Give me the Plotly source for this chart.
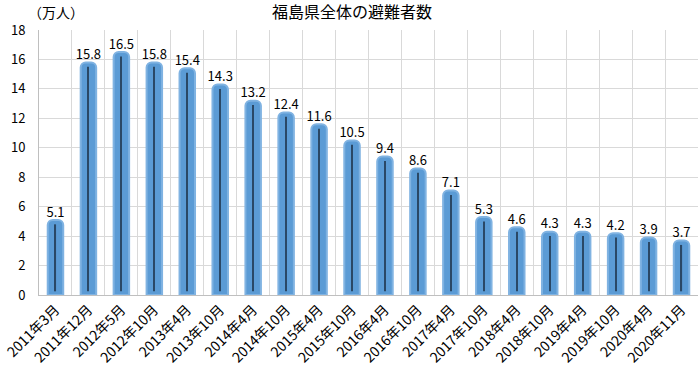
import plotly.graph_objects as go

categories = ["2011年3月", "2011年12月", "2012年5月", "2012年10月", "2013年4月", "2013年10月",
              "2014年4月", "2014年10月", "2015年4月", "2015年10月", "2016年4月", "2016年10月",
              "2017年4月", "2017年10月", "2018年4月", "2018年10月", "2019年4月", "2019年10月",
              "2020年4月", "2020年11月"]
evacuees = [5.1, 15.8, 16.5, 15.8, 15.4, 14.3, 13.2, 12.4, 11.6, 10.5, 9.4, 8.6,
            7.1, 5.3, 4.6, 4.3, 4.3, 4.2, 3.9, 3.7]
y_ticks = [0, 2, 4, 6, 8, 10, 12, 14, 16, 18]

FONT = "Noto Sans CJK JP"
inner_gap = 0.3
line_base = 0.25

fig = go.Figure()
fig.add_trace(go.Bar(
    x=categories, y=evacuees, width=0.47,
    marker=dict(color="#5B9BD5", line=dict(color="#80B3E2", width=2), cornerradius=5),
    showlegend=False, hoverinfo="skip",
))
fig.add_trace(go.Bar(
    x=categories, y=[v - inner_gap - line_base for v in evacuees], base=line_base,
    width=0.035, marker=dict(color="#2A4866", line=dict(width=0)),
    showlegend=False, hoverinfo="skip",
))
fig.add_trace(go.Scatter(
    x=categories, y=evacuees, mode="text",
    text=[f"{v:.1f}" for v in evacuees], textposition="top center",
    textfont=dict(family=FONT, size=13, color="#000000"),
    cliponaxis=False, showlegend=False,
))

fig.update_layout(
    width=700, height=368,
    margin=dict(l=33, r=2, t=30, b=73),
    paper_bgcolor="white", plot_bgcolor="white",
    barmode="overlay",
    font=dict(family=FONT, color="#000000"),
    title=dict(text="福島県全体の避難者数", x=0.503, xanchor="center", y=0.965, yanchor="middle",
               font=dict(family=FONT, size=16, color="#000000")),
    annotations=[dict(text="（万人）", xref="paper", yref="paper", x=0.026, y=1.0, yshift=18,
                      xanchor="center", yanchor="middle", showarrow=False,
                      font=dict(family=FONT, size=14, color="#000000"))],
)
fig.update_xaxes(
    type="category", range=[-0.5, len(categories) - 0.5], tickangle=-45, tickson="boundaries",
    showgrid=True, gridcolor="#D9D9D9", gridwidth=1,
    showline=True, linecolor="#BFBFBF", linewidth=1,
    ticks="", tickfont=dict(family=FONT, size=14, color="#000000"),
)
fig.update_yaxes(
    range=[0, 18], tickvals=y_ticks, ticktext=[str(t) for t in y_ticks],
    showgrid=True, gridcolor="#D9D9D9", gridwidth=1,
    showline=True, linecolor="#BFBFBF", linewidth=1, zeroline=False,
    ticks="", ticklabelstandoff=10, tickfont=dict(family=FONT, size=13, color="#000000"),
)

fig.write_html("out.html")
